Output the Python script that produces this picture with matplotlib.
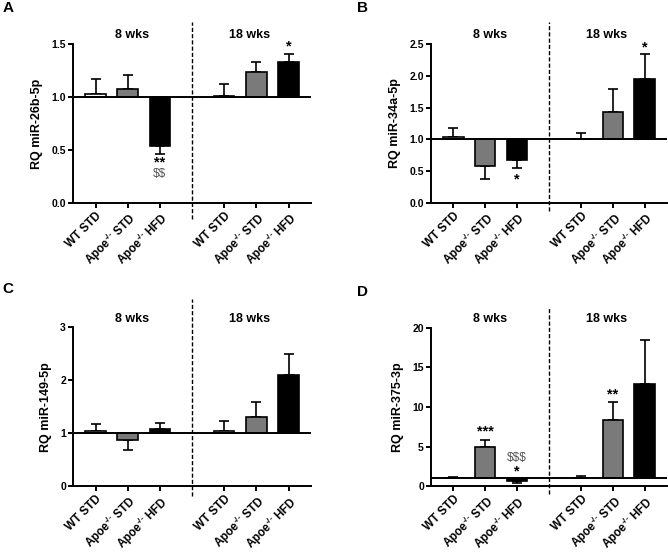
import matplotlib
matplotlib.use("Agg")
import matplotlib.pyplot as plt
import numpy as np

plt.rcParams['font.family'] = ['Liberation Sans', 'DejaVu Sans']
plt.rcParams['font.weight'] = 'bold'
plt.rcParams['mathtext.fontset'] = 'custom'
plt.rcParams['mathtext.rm'] = 'Liberation Sans:bold'
plt.rcParams['mathtext.bf'] = 'Liberation Sans:bold'
plt.rcParams['mathtext.default'] = 'bf'

groups = ["8 wks", "18 wks"]
tick_labels = ["WT STD", r"Apoe$^{\text{-/-}}$ STD", r"Apoe$^{\text{-/-}}$ HFD",
               "WT STD", r"Apoe$^{\text{-/-}}$ STD", r"Apoe$^{\text{-/-}}$ HFD"]
bar_colors = ["white", "#7a7a7a", "black", "white", "#7a7a7a", "black"]

# values (RQ), error-bar ends
a_vals = [1.03, 1.08, 0.54, 1.01, 1.236, 1.327]
a_err = [1.17, 1.21, 0.465, 1.12, 1.33, 1.41]
b_vals = [1.04, 0.578, 0.672, 1.01, 1.438, 1.957]
b_err = [1.176, 0.378, 0.556, 1.107, 1.79, 2.34]
c_vals = [1.04, 0.868, 1.075, 1.04, 1.30, 2.106]
c_err = [1.18, 0.685, 1.19, 1.226, 1.60, 2.49]
d_vals = [1.08, 4.92, 0.7, 1.02, 8.32, 12.9]
d_err = [1.2, 5.8, 0.45, 1.3, 10.63, 18.5]

# (bar index, y, text, colour)
panels = [
    dict(letter="A", ylabel="RQ miR-26b-5p", vals=a_vals, err=a_err,
         yticks=[0.0, 0.5, 1.0, 1.5], fmt="{:.1f}",
         notes=[(2, 0.38, "**", "black"), (2, 0.27, "$$", "#555555"), (5, 1.48, "*", "black")],
         pos=[0.1093, 0.6329, 0.3563, 0.2875], dash=(-0.1, 1.14)),
    dict(letter="B", ylabel="RQ miR-34a-5p", vals=b_vals, err=b_err,
         yticks=[0.0, 0.5, 1.0, 1.5, 2.0, 2.5], fmt="{:.1f}",
         notes=[(2, 0.37, "*", "black"), (5, 2.44, "*", "black")],
         pos=[0.6452, 0.6329, 0.3533, 0.2875], dash=(-0.05, 1.14)),
    dict(letter="C", ylabel="RQ miR-149-5p", vals=c_vals, err=c_err,
         yticks=[0, 1, 2, 3], fmt="{:d}",
         notes=[],
         pos=[0.1093, 0.1206, 0.3563, 0.2875], dash=(-0.06, 1.18)),
    dict(letter="D", ylabel="RQ miR-375-3p", vals=d_vals, err=d_err,
         yticks=[0, 5, 10, 15, 20], fmt="{:d}",
         notes=[(1, 6.9, "***", "black"), (2, 3.6, "$$$", "#555555"), (2, 1.9, "*", "black"),
                (4, 11.6, "**", "black")],
         pos=[0.6452, 0.1206, 0.3533, 0.2868], dash=(-0.05, 1.13)),
]

letter_pos = {"A": (0.004, 0.998), "B": (0.535, 0.998), "C": (0.004, 0.49), "D": (0.535, 0.485)}

x = np.array([0, 1, 2, 4, 5, 6])

fig = plt.figure(figsize=(6.68, 5.53), dpi=100)

for p in panels:
    ax = fig.add_axes(p["pos"])
    vals = np.array(p["vals"])
    err = np.array(p["err"])
    ax.bar(x, vals - 1, bottom=1, width=0.64, color=bar_colors,
           edgecolor="black", linewidth=1.2, zorder=3)
    lower = np.where(err < vals, vals - err, 0)
    upper = np.where(err > vals, err - vals, 0)
    ax.errorbar(x, vals, yerr=[lower, upper], fmt="none", ecolor="black",
                elinewidth=1.2, capsize=3.4, capthick=1.2, zorder=2)
    ax.axhline(1, color="black", linewidth=1.4, zorder=4)
    ax.axvline(3, ymin=p["dash"][0], ymax=p["dash"][1], color="black",
               linestyle=(0, (3, 1.5)), linewidth=1.0, clip_on=False)
    ymax = p["yticks"][-1]
    ax.set_ylim(0, ymax)
    ax.set_xlim(-0.7, 6.7)
    ax.set_yticks(p["yticks"])
    ax.set_yticklabels([p["fmt"].format(t) for t in p["yticks"]], fontsize=7.5)
    ax.set_xticks(x)
    ax.set_xticklabels(tick_labels, rotation=45, ha="right", rotation_mode="anchor",
                       fontsize=8.4)
    ax.set_ylabel(p["ylabel"], fontsize=9, fontweight="bold", labelpad=6)
    for side in ["top", "right"]:
        ax.spines[side].set_visible(False)
    for side in ["left", "bottom"]:
        ax.spines[side].set_linewidth(1.4)
    ax.tick_params(width=1.4, length=3.6, pad=1.5)
    ax.text(1.15, 1.055, groups[0], transform=ax.get_xaxis_transform(),
            ha="center", va="center", fontsize=9, fontweight="bold")
    ax.text(4.8, 1.055, groups[1], transform=ax.get_xaxis_transform(),
            ha="center", va="center", fontsize=9, fontweight="bold")
    for xi, yv, s, c in p["notes"]:
        star = "*" in s
        ax.text(x[xi], yv, s.replace("$", r"\$"), ha="center", va="center",
                fontsize=10.5 if star else 8.5, color=c,
                fontweight="bold" if star else "normal")
    lx, ly = letter_pos[p["letter"]]
    fig.text(lx, ly, p["letter"], ha="left", va="top", fontsize=11, fontweight="bold")

fig.savefig("out.png", dpi=100)
